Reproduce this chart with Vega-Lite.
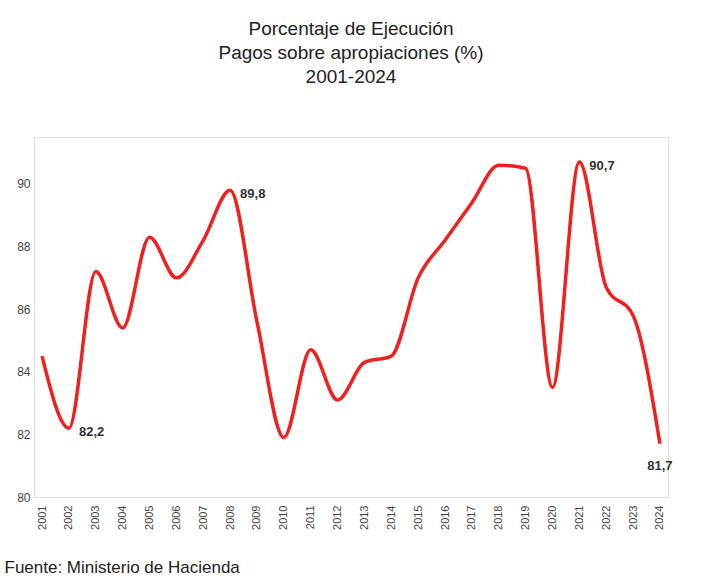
{
"$schema":"https://vega.github.io/schema/vega-lite/v6.json",
"width":712,"height":584,
"autosize":{"type":"fit","contains":"padding"},
"padding":{"left":4,"right":40,"top":20,"bottom":8},
"background":"white",
"title":{"text":["Porcentaje de Ejecución","Pagos sobre apropiaciones (%)","2001-2024"],"font":"Liberation Sans","fontSize":19,"fontWeight":"normal","color":"#222","lineHeight":24,"offset":50},
"data":{"values":[
{"a":"2001","v":84.5},{"a":"2002","v":82.2,"l":"82,2"},{"a":"2003","v":87.2},{"a":"2004","v":85.4},{"a":"2005","v":88.3},{"a":"2006","v":87.0},{"a":"2007","v":88.2},{"a":"2008","v":89.8,"l":"89,8"},{"a":"2009","v":85.6},{"a":"2010","v":81.9},{"a":"2011","v":84.7},{"a":"2012","v":83.1},{"a":"2013","v":84.3},{"a":"2014","v":84.5},{"a":"2015","v":87.0},{"a":"2016","v":88.2},{"a":"2017","v":89.4},{"a":"2018","v":90.6},{"a":"2019","v":90.5},{"a":"2020","v":83.5},{"a":"2021","v":90.7,"l":"90,7"},{"a":"2022","v":86.7},{"a":"2023","v":85.8},{"a":"2024","v":81.7,"l":"81,7"}]},
"encoding":{
"x":{"field":"a","type":"ordinal","scale":{"type":"point","padding":0.3},"axis":{"title":"Fuente: Ministerio de Hacienda","titleFont":"Liberation Sans","titleFontSize":17,"titleFontWeight":"normal","titleColor":"#222","titleAnchor":"start","titleAlign":"left","titleX":-30,"titlePadding":30,"labelAngle":-90,"labelFontSize":11,"labelColor":"#444","domain":false,"ticks":false,"labelPadding":8}},
"y":{"field":"v","type":"quantitative","scale":{"domain":[80,91.5],"nice":false},"axis":{"title":null,"values":[80,82,84,86,88,90],"grid":false,"domain":false,"ticks":false,"labelFontSize":12,"labelColor":"#444","labelPadding":4}}},
"layer":[
{"mark":{"type":"line","interpolate":"monotone","color":"#f02020","strokeWidth":3.5}},
{"mark":{"type":"text","align":"left","dx":10,"dy":4,"fontWeight":"bold","fontSize":13,"color":"#333"},"transform":[{"filter":"datum.l && datum.a != '2024'"}],"encoding":{"text":{"field":"l"}}},
{"mark":{"type":"text","align":"center","dy":22,"fontWeight":"bold","fontSize":13,"color":"#333"},"transform":[{"filter":"datum.a == '2024'"}],"encoding":{"text":{"field":"l"}}}
]
}
